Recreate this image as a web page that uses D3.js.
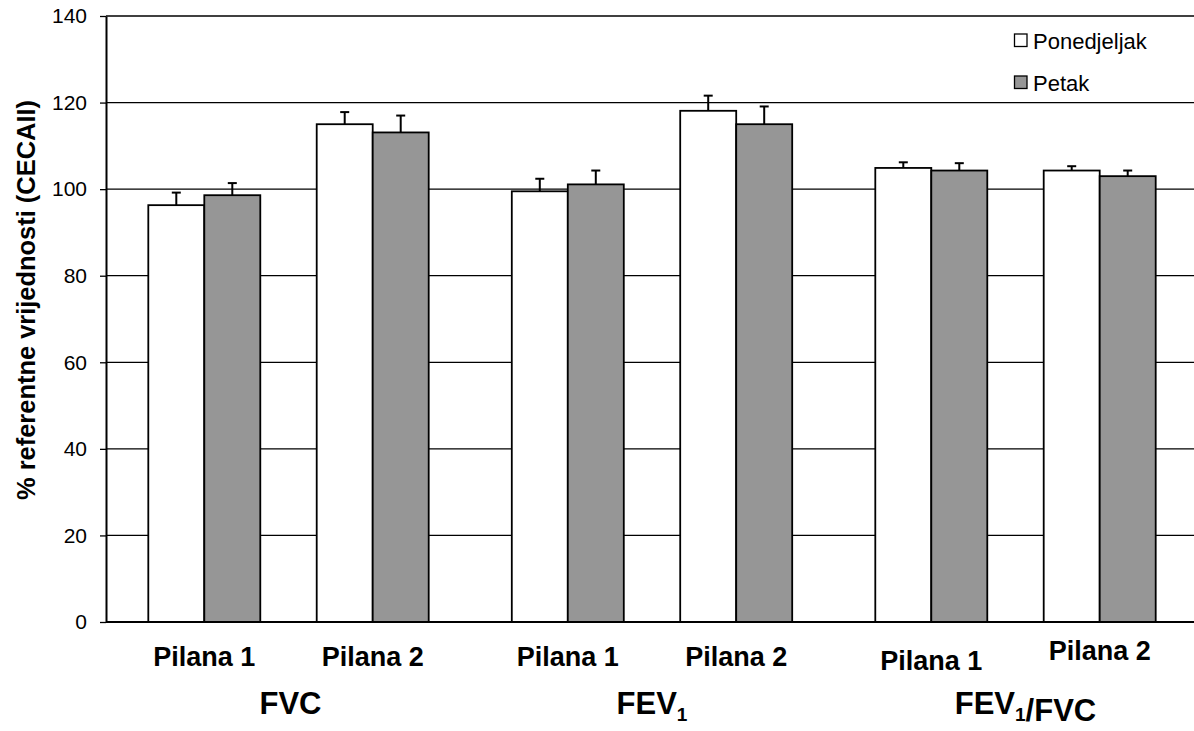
<!DOCTYPE html>
<html><head><meta charset="utf-8">
<script src="https://cdn.jsdelivr.net/npm/d3@7"></script>
<style>body{margin:0;background:#fff;} text{font-family:"Liberation Sans",Arial,sans-serif;}</style>
</head><body>
<svg id="c" width="1194" height="731"></svg>
<script>
const groups = ["FVC", "FEV1", "FEV1/FVC"];
const sites = ["Pilana 1", "Pilana 2"];
const seriesNames = ["Ponedjeljak", "Petak"];
// values per group, per site
const ponedjeljak = [[96.3, 115.0], [99.5, 118.1], [104.9, 104.3]];
const petak       = [[98.6, 113.1], [101.1, 115.0], [104.3, 103.0]];
const errPonedjeljak = [[2.9, 2.8], [2.9, 3.5], [1.3, 1.0]];
const errPetak       = [[2.8, 3.9], [3.2, 4.1], [1.7, 1.3]];
const yTicks = [0, 20, 40, 60, 80, 100, 120, 140];
const colors = ["#ffffff", "#969696"];

(function () {
const svg = d3.select("#c");
const axisX = 106, plotTop = 16, plotBottom = 622, plotRight = 1194;
const y = d3.scaleLinear().domain([0, 140]).range([plotBottom, plotTop]);

const x0 = d3.scaleBand().domain(groups).range([148.3, 1155.7]).paddingInner(0.2286).paddingOuter(0);
const x1 = d3.scaleBand().domain(sites).range([0, x0.bandwidth()]).paddingInner(0.335).paddingOuter(0);
const x2 = d3.scaleBand().domain(seriesNames).range([0, x1.bandwidth()]).padding(0);

svg.append("g").selectAll("line").data(yTicks.filter(d => d > 0)).join("line")
  .attr("x1", axisX).attr("x2", plotRight).attr("y1", d => y(d)).attr("y2", d => y(d))
  .attr("stroke", "#000").attr("stroke-width", 1.3);

const recs = [];
groups.forEach((g, gi) => sites.forEach((s, si) => {
  recs.push({g, s, ser: seriesNames[0], v: ponedjeljak[gi][si], e: errPonedjeljak[gi][si], c: colors[0]});
  recs.push({g, s, ser: seriesNames[1], v: petak[gi][si], e: errPetak[gi][si], c: colors[1]});
}));
const bx = d => x0(d.g) + x1(d.s) + x2(d.ser);

const eb = svg.append("g").attr("stroke", "#000").attr("stroke-width", 2);
recs.forEach(d => {
  const cx = bx(d) + x2.bandwidth() / 2;
  eb.append("line").attr("x1", cx).attr("x2", cx).attr("y1", y(d.v)).attr("y2", y(d.v + d.e));
  eb.append("line").attr("x1", cx - 4.5).attr("x2", cx + 4.5).attr("y1", y(d.v + d.e)).attr("y2", y(d.v + d.e));
});

svg.append("g").selectAll("rect").data(recs).join("rect")
  .attr("x", bx).attr("y", d => y(d.v))
  .attr("width", x2.bandwidth()).attr("height", d => y(0) - y(d.v))
  .attr("fill", d => d.c).attr("stroke", "#000").attr("stroke-width", 1.8);

svg.append("line").attr("x1", axisX).attr("x2", plotRight).attr("y1", y(0)).attr("y2", y(0))
  .attr("stroke", "#000").attr("stroke-width", 2);

const ya = svg.append("g").attr("transform", `translate(${axisX},0)`)
  .call(d3.axisLeft(y).tickValues(yTicks).tickSize(6).tickSizeOuter(0));
ya.select(".domain").attr("stroke", "#000").attr("stroke-width", 2);
ya.selectAll(".tick line").attr("stroke", "#000").attr("stroke-width", 1.3);
ya.selectAll(".tick text").attr("font-size", 21).attr("x", -19).attr("fill", "#000")
  .style("font-family", "Liberation Sans, Arial, sans-serif");

svg.append("text").attr("transform", "translate(35,300) rotate(-90)")
  .attr("text-anchor", "middle").attr("font-size", 26).attr("font-weight", "bold")
  .attr("textLength", 400).attr("lengthAdjust", "spacingAndGlyphs")
  .text("% referentne vrijednosti (CECAII)");

groups.forEach((g, gi) => sites.forEach((s, si) => {
  let dy = 0;
  if (gi === 2) dy = si === 0 ? 4 : -6;
  svg.append("text").attr("x", x0(g) + x1(s) + x1.bandwidth() / 2).attr("y", 666 + dy)
    .attr("text-anchor", "middle").attr("font-size", 27).attr("font-weight", "bold").text(s);
}));

const gOff = [2, 0, 10];
groups.forEach((g, gi) => {
  const t = svg.append("text").attr("x", x0(g) + x0.bandwidth() / 2 + gOff[gi]).attr("y", 714)
    .attr("text-anchor", "middle").attr("font-size", 31).attr("font-weight", "bold");
  const parts = g.split("1");
  parts.forEach((p, i) => {
    t.append("tspan").text(p);
    if (i < parts.length - 1) {
      t.append("tspan").attr("font-size", 19).attr("dy", 7).text("1");
      t.append("tspan").attr("dy", -7).text("");
    }
  });
});

const lg = svg.append("g");
seriesNames.forEach((n, i) => {
  const yy = 34 + i * 42;
  lg.append("rect").attr("x", 1014.5).attr("y", yy).attr("width", 12.5).attr("height", 12.5)
    .attr("fill", colors[i]).attr("stroke", "#000").attr("stroke-width", 1.3);
  lg.append("text").attr("x", 1033).attr("y", yy + 14.5).attr("font-size", 22).text(n);
});
})();
</script>
</body></html>
